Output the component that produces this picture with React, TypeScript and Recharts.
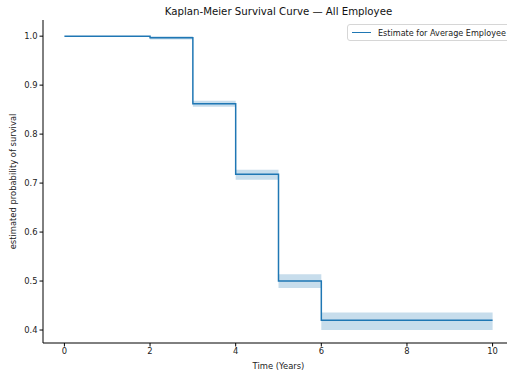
import { ComposedChart, Line, Area, XAxis, YAxis } from "recharts"

const times = [0, 2, 3, 4, 5, 6, 10]
const survival = [1.0, 0.997, 0.862, 0.718, 0.5, 0.42, 0.42]
const lower = [1.0, 0.993, 0.856, 0.707, 0.486, 0.4, 0.4]
const upper = [1.0, 1.0, 0.868, 0.727, 0.514, 0.436, 0.436]
const xTicks = [0, 2, 4, 6, 8, 10]
const yTicks = [0.4, 0.5, 0.6, 0.7, 0.8, 0.9, 1.0]

const data = times.map((t, i) => ({
  t,
  km: survival[i],
  ci: [lower[i], upper[i]],
}))

const font = "'DejaVu Sans', sans-serif"
const blue = "#1f77b4"
const txt = { fontSize: 8.4, fill: "#222", fontFamily: font }

export default function App() {
  return (
    <div style={{ position: "absolute", left: 0, top: 0, width: 507, height: 371, overflow: "hidden", background: "#fff" }}>
      <div
        style={{
          position: "absolute",
          top: 6,
          left: 43,
          width: 471,
          textAlign: "center",
          fontFamily: font,
          fontSize: 10.2,
          color: "#111",
        }}
      >
        Kaplan-Meier Survival Curve — All Employee
      </div>
      <ComposedChart width={520} height={371} data={data} margin={{ top: 20, right: 6, bottom: 0, left: 0 }}>
        <XAxis
          dataKey="t"
          type="number"
          domain={[-0.5, 10.5]}
          ticks={xTicks}
          allowDataOverflow
          height={28}
          stroke="#000"
          tickSize={3.5}
          tick={txt}
          label={{ value: "Time (Years)", position: "insideBottom", offset: 2, ...txt }}
        />
        <XAxis
          xAxisId="top"
          orientation="top"
          type="number"
          domain={[-0.5, 10.5]}
          tick={false}
          tickLine={false}
          height={0}
          stroke="#000"
        />
        <YAxis
          type="number"
          domain={[0.3735, 1.033]}
          ticks={yTicks}
          allowDataOverflow
          width={43}
          stroke="#000"
          tickSize={3.5}
          tickFormatter={(v: number) => v.toFixed(1)}
          tick={txt}
          label={{
            value: "estimated probability of survival",
            angle: -90,
            position: "insideLeft",
            offset: 13,
            style: { textAnchor: "middle" },
            ...txt,
          }}
        />
        <Area
          dataKey="ci"
          type="stepAfter"
          stroke="none"
          fill={blue}
          fillOpacity={0.25}
          isAnimationActive={false}
        />
        <Line
          dataKey="km"
          type="stepAfter"
          stroke={blue}
          strokeWidth={1.5}
          dot={false}
          isAnimationActive={false}
        />
      </ComposedChart>
      <div
        style={{
          position: "absolute",
          top: 24,
          left: 347,
          width: 170,
          height: 17,
          boxSizing: "border-box",
          border: "1px solid #d6d6d6",
          borderRadius: 3,
          background: "rgba(255,255,255,0.8)",
          display: "flex",
          alignItems: "center",
          paddingLeft: 4,
          whiteSpace: "nowrap",
          fontFamily: font,
          fontSize: 8.1,
          color: "#222",
        }}
      >
        <span style={{ width: 19, height: 0, borderTop: `1.5px solid ${blue}`, marginRight: 7 }} />
        Estimate for Average Employee
      </div>
    </div>
  )
}
